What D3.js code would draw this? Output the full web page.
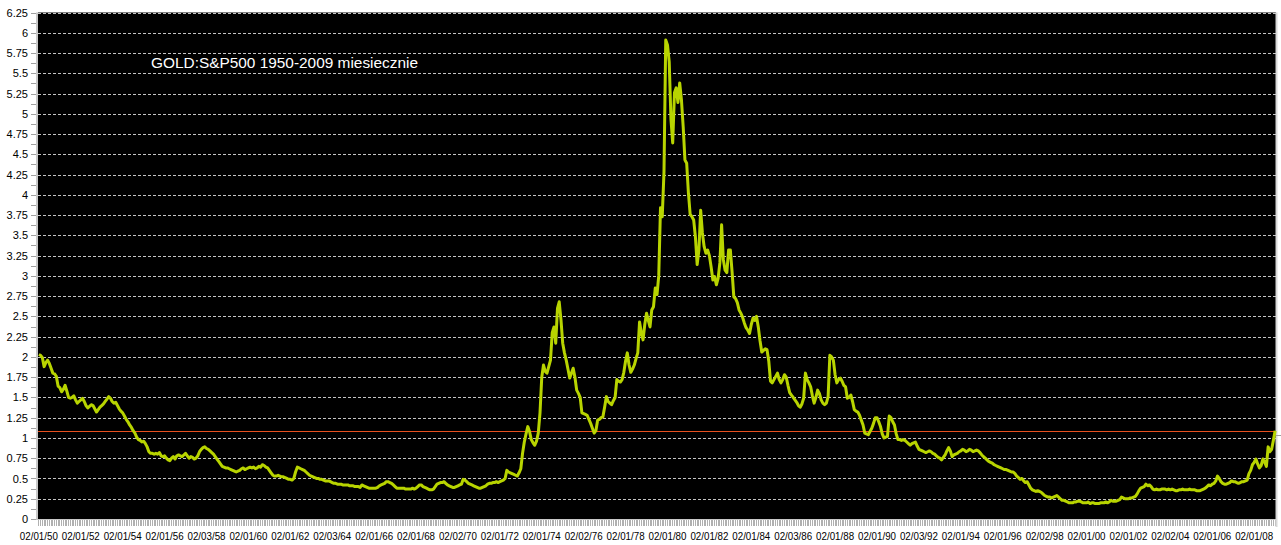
<!DOCTYPE html>
<html>
<head>
<meta charset="utf-8">
<script src="https://cdn.jsdelivr.net/npm/d3@7"></script>
<style>
    body { margin: 0; background: #fff; }
    svg text { font-family: "Liberation Sans", Arial, sans-serif; }
</style>
</head>
<body>
<div id="chart"></div>
<script>

// gold / S&P500 ratio, monthly (Jan 1950 .. Jan 2009)
var r1950s = [
    2.03, 2.02, 1.99, 1.88, 1.93, 1.96, 1.92, 1.86, 1.80, 1.79, 1.76, 1.64,
    1.62, 1.57, 1.60, 1.65, 1.58, 1.50, 1.49, 1.50, 1.52, 1.47, 1.43, 1.45,
    1.47, 1.49, 1.45, 1.40, 1.37, 1.39, 1.41, 1.40, 1.36, 1.32, 1.35, 1.38,
    1.40, 1.42, 1.45, 1.48, 1.51, 1.49, 1.45, 1.43, 1.44, 1.40, 1.36, 1.33,
    1.31, 1.27, 1.23, 1.20, 1.16, 1.13, 1.09, 1.06, 1.01, 0.98, 0.97, 0.95,
    0.96, 0.93, 0.89, 0.83, 0.81, 0.81, 0.80, 0.81, 0.80, 0.82, 0.78, 0.77,
    0.78, 0.75, 0.73, 0.72, 0.75, 0.77, 0.74, 0.78, 0.79, 0.78, 0.77, 0.79,
    0.81, 0.78, 0.75, 0.77, 0.76, 0.74, 0.75, 0.78, 0.83, 0.86, 0.88, 0.89,
    0.87, 0.86, 0.84, 0.82, 0.80, 0.77, 0.74, 0.71, 0.68, 0.65, 0.64, 0.63,
    0.63, 0.62, 0.61, 0.60, 0.59, 0.58, 0.59, 0.60, 0.62, 0.63, 0.61, 0.62
];
var r1960s = [
    0.63, 0.64, 0.63, 0.64, 0.62, 0.63, 0.65, 0.64, 0.67, 0.66, 0.64, 0.63,
    0.60, 0.57, 0.54, 0.53, 0.53, 0.54, 0.53, 0.52, 0.52, 0.51, 0.50, 0.49,
    0.49, 0.48, 0.50, 0.58, 0.64, 0.63, 0.62, 0.61, 0.60, 0.58, 0.56, 0.54,
    0.53, 0.52, 0.51, 0.50, 0.50, 0.49, 0.49, 0.48, 0.47, 0.47, 0.47, 0.46,
    0.45, 0.44, 0.44, 0.43, 0.43, 0.43, 0.42, 0.42, 0.42, 0.42, 0.41, 0.41,
    0.41, 0.40, 0.40, 0.40, 0.39, 0.42, 0.41, 0.40, 0.39, 0.38, 0.38, 0.38,
    0.38, 0.38, 0.39, 0.41, 0.42, 0.43, 0.44, 0.46, 0.46, 0.45, 0.44, 0.42,
    0.40, 0.38, 0.38, 0.38, 0.38, 0.38, 0.37, 0.37, 0.37, 0.37, 0.38, 0.37,
    0.38, 0.40, 0.42, 0.42, 0.40, 0.39, 0.38, 0.37, 0.36, 0.36, 0.37, 0.40,
    0.43, 0.44, 0.45, 0.45, 0.46, 0.44, 0.42, 0.41, 0.40, 0.39, 0.39, 0.40
];
var r1970s = [
    0.41, 0.42, 0.43, 0.49, 0.48, 0.46, 0.44, 0.43, 0.42, 0.41, 0.40, 0.39,
    0.38, 0.38, 0.39, 0.40, 0.41, 0.43, 0.44, 0.44, 0.45, 0.45, 0.46, 0.45,
    0.46, 0.47, 0.48, 0.50, 0.60, 0.58, 0.57, 0.56, 0.55, 0.54, 0.53, 0.57,
    0.62, 0.81, 0.95, 1.05, 1.14, 1.08, 0.98, 0.94, 0.91, 0.96, 1.06, 1.31,
    1.75, 1.90, 1.82, 1.80, 1.88, 1.96, 2.30, 2.37, 2.17, 2.60, 2.68, 2.46,
    2.17, 2.05, 1.96, 1.85, 1.74, 1.80, 1.86, 1.75, 1.59, 1.55, 1.50, 1.31,
    1.30, 1.29, 1.28, 1.23, 1.18, 1.12, 1.06, 1.09, 1.22, 1.23, 1.25, 1.26,
    1.38, 1.51, 1.45, 1.43, 1.41, 1.46, 1.50, 1.72, 1.70, 1.69, 1.72, 1.81,
    1.95, 2.05, 1.90, 1.81, 1.85, 1.90, 1.98, 2.05, 2.43, 2.30, 2.21, 2.40,
    2.54, 2.45, 2.37, 2.58, 2.62, 2.85, 2.77, 3.00, 3.84, 3.73, 4.28, 5.91
];
var r1980s = [
    5.85, 5.64, 4.93, 4.64, 5.26, 5.32, 5.14, 5.38, 5.17, 4.84, 4.43, 4.39,
    4.02, 3.76, 3.73, 3.69, 3.48, 3.14, 3.32, 3.81, 3.53, 3.36, 3.28, 3.32,
    3.25, 3.11, 2.95, 2.99, 2.89, 2.97, 3.16, 3.63, 3.20, 3.07, 3.04, 3.32,
    3.32, 3.05, 2.74, 2.72, 2.67, 2.58, 2.54, 2.49, 2.42, 2.36, 2.33, 2.29,
    2.40, 2.48, 2.45, 2.50, 2.37, 2.20, 2.06, 2.08, 2.10, 2.09, 1.95, 1.70,
    1.68, 1.72, 1.76, 1.80, 1.72, 1.68, 1.72, 1.78, 1.75, 1.65, 1.56, 1.53,
    1.50, 1.47, 1.44, 1.40, 1.38, 1.42, 1.49, 1.80, 1.72, 1.68, 1.63, 1.52,
    1.43, 1.50, 1.59, 1.55, 1.47, 1.43, 1.41, 1.43, 1.51, 2.02, 2.00, 1.96,
    1.78, 1.68, 1.72, 1.74, 1.70, 1.65, 1.63, 1.49, 1.50, 1.53, 1.45, 1.35,
    1.33, 1.32, 1.28, 1.22, 1.16, 1.06, 1.05, 1.04, 1.08, 1.12, 1.18, 1.25
];
var r1990s = [
    1.25, 1.20, 1.14, 1.05, 1.00, 1.01, 1.02, 1.27, 1.25, 1.20, 1.16, 1.05,
    0.98, 0.98, 0.97, 0.98, 0.97, 0.95, 0.93, 0.91, 0.93, 0.94, 0.95, 0.90,
    0.86, 0.85, 0.84, 0.83, 0.82, 0.83, 0.84, 0.83, 0.81, 0.80, 0.78, 0.76,
    0.75, 0.73, 0.76, 0.79, 0.84, 0.88, 0.84, 0.77, 0.79, 0.80, 0.81, 0.83,
    0.84, 0.86, 0.85, 0.83, 0.84, 0.86, 0.85, 0.83, 0.84, 0.85, 0.84, 0.82,
    0.79, 0.77, 0.75, 0.73, 0.71, 0.70, 0.69, 0.67, 0.66, 0.65, 0.64, 0.63,
    0.62, 0.61, 0.61, 0.60, 0.59, 0.58, 0.58, 0.56, 0.53, 0.51, 0.49, 0.50,
    0.47, 0.45, 0.46, 0.42, 0.38, 0.36, 0.35, 0.34, 0.35, 0.34, 0.33, 0.31,
    0.29, 0.28, 0.27, 0.27, 0.26, 0.27, 0.28, 0.29, 0.27, 0.25, 0.23, 0.23,
    0.22, 0.21, 0.20, 0.20, 0.20, 0.21, 0.21, 0.22, 0.22, 0.21, 0.20, 0.20
];
var r2000s = [
    0.20, 0.21, 0.19, 0.20, 0.20, 0.19, 0.19, 0.19, 0.20, 0.20, 0.20, 0.21,
    0.20, 0.21, 0.23, 0.22, 0.22, 0.22, 0.23, 0.24, 0.27, 0.26, 0.25, 0.25,
    0.25, 0.26, 0.26, 0.27, 0.28, 0.31, 0.35, 0.38, 0.39, 0.40, 0.43, 0.41,
    0.42, 0.40, 0.37, 0.36, 0.37, 0.36, 0.36, 0.37, 0.37, 0.37, 0.36, 0.37,
    0.36, 0.37, 0.36, 0.35, 0.35, 0.36, 0.36, 0.37, 0.36, 0.36, 0.36, 0.37,
    0.36, 0.36, 0.36, 0.35, 0.35, 0.35, 0.36, 0.37, 0.38, 0.40, 0.42, 0.41,
    0.43, 0.44, 0.47, 0.53, 0.50, 0.46, 0.44, 0.43, 0.43, 0.44, 0.45, 0.47,
    0.46, 0.46, 0.45, 0.44, 0.45, 0.46, 0.46, 0.47, 0.48, 0.56, 0.60, 0.67,
    0.70, 0.74, 0.68, 0.63, 0.66, 0.74, 0.70, 0.65, 0.89, 0.83, 0.86, 0.97,
    1.09
];

var xTickLabels = ["02/01/50", "02/01/52", "02/01/54", "02/01/56", "02/03/58", "02/01/60",
    "02/01/62", "02/03/64", "02/01/66", "02/01/68", "02/02/70", "02/01/72", "02/01/74",
    "02/02/76", "02/01/78", "02/01/80", "02/01/82", "02/01/84", "02/03/86", "02/01/88",
    "02/01/90", "02/03/92", "02/01/94", "02/01/96", "02/02/98", "02/01/00", "02/01/02",
    "02/02/04", "02/01/06", "02/01/08"];
var labelEvery = 24;                 // one label every 2 years of months
var yMax = 6.25, yStep = 0.25;
var refLevel = 1.09;                 // the thin red line (current level)
var rightTickValue = 1.04;
var title = "GOLD:S&P500 1950-2009 miesiecznie";

var ratio = r1950s.concat(r1960s, r1970s, r1980s, r1990s, r2000s);

var chartW = 1281, chartH = 545;
var plotLeft = 38, plotRight = 1276, plotTop = 12.5, plotBottom = 519;

var svg = d3.select("#chart").append("svg")
    .attr("width", chartW)
    .attr("height", chartH);

var x = d3.scaleBand()
    .domain(d3.range(ratio.length))
    .range([plotLeft, plotRight]);
var cx = function (i) { return x(i) + x.bandwidth() / 2; };

var y = d3.scaleLinear()
    .domain([0, yMax])
    .range([plotBottom, plotTop]);

var yMajor = d3.range(0, yMax + 0.001, yStep);
var yMinor = yMajor.slice(0, -1).map(function (d) { return d + yStep / 2; });

// black plot area
svg.append("rect")
    .attr("x", plotLeft).attr("y", plotTop)
    .attr("width", plotRight - plotLeft).attr("height", plotBottom - plotTop)
    .style("fill", "#000");

// dashed grid
svg.append("g").selectAll("line").data(yMajor.slice(1)).enter().append("line")
    .attr("x1", plotLeft).attr("x2", plotRight)
    .attr("y1", function (d) { return Math.round(y(d)) + 0.5; })
    .attr("y2", function (d) { return Math.round(y(d)) + 0.5; })
    .style("stroke", "#c4c4c4")
    .style("stroke-width", 1)
    .style("stroke-dasharray", "3,2");

// y axis: labels + major ticks, then minor ticks
var yAxis = svg.append("g")
    .attr("transform", "translate(" + (plotLeft - 1) + ",0)")
    .call(d3.axisLeft(y).tickValues(yMajor).tickSize(6).tickPadding(3)
        .tickFormat(function (d) { return String(+d.toFixed(2)); }));
svg.append("g")
    .attr("transform", "translate(" + (plotLeft - 1) + ",0)")
    .call(d3.axisLeft(y).tickValues(yMinor).tickSize(6).tickFormat(""))
    .call(function (g) { g.select(".domain").remove(); });
yAxis.select(".domain").remove();
svg.selectAll(".tick line").style("stroke", "#a0a0a0").attr("shape-rendering", "crispEdges");
yAxis.selectAll("text")
    .style("font-size", "11px")
    .style("fill", "#000");

// x axis: a tick for every month, a label every two years
svg.append("g")
    .attr("transform", "translate(0," + plotBottom + ")")
    .call(d3.axisBottom(x).tickValues(d3.range(ratio.length)).tickSize(7).tickFormat(""))
    .call(function (g) {
        g.select(".domain").remove();
        g.selectAll("line").style("stroke", "#b0b0b0").attr("shape-rendering", "crispEdges");
    });

var labelIdx = xTickLabels.map(function (d, k) { return k * labelEvery; });
svg.append("g")
    .attr("transform", "translate(0," + plotBottom + ")")
    .call(d3.axisBottom(x).tickValues(labelIdx).tickSize(0).tickPadding(13)
        .tickFormat(function (d, k) { return xTickLabels[k]; }))
    .call(function (g) {
        g.select(".domain").remove();
        g.selectAll("text")
            .style("font-size", "11px")
            .style("fill", "#000")
            .attr("textLength", 38)
            .attr("lengthAdjust", "spacingAndGlyphs");
    });

// frame lines
svg.append("line")
    .attr("x1", plotLeft - 1).attr("x2", plotLeft - 1)
    .attr("y1", plotTop).attr("y2", plotBottom + 1)
    .style("stroke", "#c8c8c8").style("stroke-width", 2);
svg.append("line")
    .attr("x1", plotLeft - 2).attr("x2", plotRight)
    .attr("y1", plotBottom + 0.5).attr("y2", plotBottom + 0.5)
    .style("stroke", "#c8c8c8").style("stroke-width", 1);
svg.append("line")
    .attr("x1", plotRight + 0.5).attr("x2", plotRight + 0.5)
    .attr("y1", plotTop).attr("y2", plotBottom + 8)
    .style("stroke", "#d8d8d8").style("stroke-width", 2);
svg.append("line")
    .attr("x1", plotRight).attr("x2", chartW)
    .attr("y1", Math.round(y(rightTickValue)) + 0.5).attr("y2", Math.round(y(rightTickValue)) + 0.5)
    .style("stroke", "#a0a0a0");

// red reference line
svg.append("line")
    .attr("x1", plotLeft).attr("x2", plotRight)
    .attr("y1", Math.round(y(refLevel)) + 0.5).attr("y2", Math.round(y(refLevel)) + 0.5)
    .style("stroke", "#e8501e")
    .style("stroke-width", 1);

// the ratio itself
var line = d3.line()
    .x(function (d, i) { return cx(i); })
    .y(function (d) { return y(d); });

svg.append("path")
    .datum(ratio)
    .attr("d", line)
    .style("fill", "none")
    .style("stroke", "#b8d400")
    .style("stroke-width", 3)
    .style("stroke-linejoin", "round");

// title inside the plot
svg.append("text")
    .attr("x", 151)
    .attr("y", 68)
    .attr("textLength", 267)
    .attr("lengthAdjust", "spacingAndGlyphs")
    .text(title)
    .style("fill", "#fff")
    .style("font-size", "15.5px");

</script>
</body>
</html>
